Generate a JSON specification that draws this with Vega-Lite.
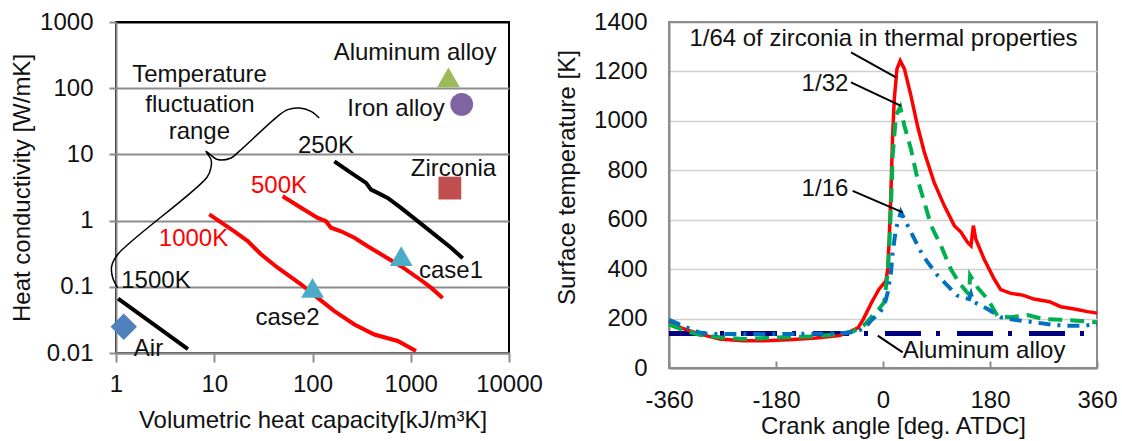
{
  "$schema": "https://vega.github.io/schema/vega-lite/v6.json",
  "padding": {"left": 9, "top": 9, "right": 2, "bottom": 2},
  "bounds": "flush",
  "spacing": 160,
  "config": {
    "font": "Liberation Sans",
    "axis": {"labelFont": "Liberation Sans", "titleFont": "Liberation Sans", "labelFontSize": 24, "titleFontSize": 24, "titleFontWeight": "normal", "labelColor": "#111111", "titleColor": "#111111"},
    "text": {"font": "Liberation Sans", "fontSize": 24}
  },
  "datasets": {
    "curves": [
      {"series": "250K", "ord": 1, "x": 167, "y": 7.87}, {"series": "250K", "ord": 2, "x": 247, "y": 5.25}, {"series": "250K", "ord": 3, "x": 351, "y": 3.71}, {"series": "250K", "ord": 4, "x": 394, "y": 2.94}, {"series": "250K", "ord": 5, "x": 461, "y": 2.62}, {"series": "250K", "ord": 6, "x": 582, "y": 2.2}, {"series": "250K", "ord": 7, "x": 796, "y": 1.56}, {"series": "250K", "ord": 8, "x": 1177, "y": 0.98}, {"series": "250K", "ord": 9, "x": 1738, "y": 0.62}, {"series": "250K", "ord": 10, "x": 2570, "y": 0.39}, {"series": "250K", "ord": 11, "x": 3380, "y": 0.27},
      {"series": "500K", "ord": 1, "x": 49.7, "y": 2.33}, {"series": "500K", "ord": 2, "x": 76.4, "y": 1.56}, {"series": "500K", "ord": 3, "x": 113, "y": 1.1}, {"series": "500K", "ord": 4, "x": 137, "y": 0.98}, {"series": "500K", "ord": 5, "x": 154, "y": 0.78}, {"series": "500K", "ord": 6, "x": 195, "y": 0.69}, {"series": "500K", "ord": 7, "x": 267, "y": 0.55}, {"series": "500K", "ord": 8, "x": 364, "y": 0.41}, {"series": "500K", "ord": 9, "x": 538, "y": 0.29}, {"series": "500K", "ord": 10, "x": 796, "y": 0.205}, {"series": "500K", "ord": 11, "x": 1177, "y": 0.137}, {"series": "500K", "ord": 12, "x": 1607, "y": 0.097}, {"series": "500K", "ord": 13, "x": 2113, "y": 0.068},
      {"series": "1000K", "ord": 1, "x": 8.9, "y": 1.24}, {"series": "1000K", "ord": 2, "x": 16, "y": 0.69}, {"series": "1000K", "ord": 3, "x": 21.9, "y": 0.49}, {"series": "1000K", "ord": 4, "x": 29.9, "y": 0.31}, {"series": "1000K", "ord": 5, "x": 44.2, "y": 0.194}, {"series": "1000K", "ord": 6, "x": 76.4, "y": 0.109}, {"series": "1000K", "ord": 7, "x": 113, "y": 0.068}, {"series": "1000K", "ord": 8, "x": 167, "y": 0.043}, {"series": "1000K", "ord": 9, "x": 267, "y": 0.027}, {"series": "1000K", "ord": 10, "x": 426, "y": 0.019}, {"series": "1000K", "ord": 11, "x": 736, "y": 0.0152}, {"series": "1000K", "ord": 12, "x": 1130, "y": 0.0107},
      {"series": "1500K", "ord": 1, "x": 1.05, "y": 0.066}, {"series": "1500K", "ord": 2, "x": 5.4, "y": 0.0114}
    ],
    "bracket": [
      {"ord": 1, "x": 117, "y": 35.4}, {"ord": 2, "x": 96.6, "y": 44.7}, {"ord": 3, "x": 73.4, "y": 50.1}, {"ord": 4, "x": 56, "y": 47.4}, {"ord": 5, "x": 44.2, "y": 37.6}, {"ord": 6, "x": 17.9, "y": 11.1}, {"ord": 7, "x": 14.8, "y": 8.83}, {"ord": 8, "x": 10.8, "y": 8.35}, {"ord": 9, "x": 8.24, "y": 11.1}, {"ord": 10, "x": 9.27, "y": 8.35}, {"ord": 11, "x": 9.27, "y": 6.38}, {"ord": 12, "x": 8.44, "y": 4.52}, {"ord": 13, "x": 1.04, "y": 0.308}, {"ord": 14, "x": 0.904, "y": 0.205}, {"ord": 15, "x": 0.926, "y": 0.137}, {"ord": 16, "x": 1.04, "y": 0.0966}
    ],
    "materials": [
      {"name": "Aluminum alloy", "x": 2420, "y": 146},
      {"name": "Iron alloy", "x": 3300, "y": 57},
      {"name": "Zirconia", "x": 2500, "y": 3.1},
      {"name": "case1", "x": 800, "y": 0.29},
      {"name": "case2", "x": 100, "y": 0.096},
      {"name": "Air", "x": 1.2, "y": 0.025}
    ],
    "leftLabels": [
      {"label": "Aluminum alloy", "x": 1105, "y": 335},
      {"label": "Temperature", "x": 7.08, "y": 161},
      {"label": "fluctuation", "x": 7.16, "y": 56.4},
      {"label": "range", "x": 7.05, "y": 22.1},
      {"label": "Iron alloy", "x": 708, "y": 47.9},
      {"label": "250K", "x": 137, "y": 13.2},
      {"label": "Zirconia", "x": 2723, "y": 5.96},
      {"label": "500K", "x": 45.6, "y": 3.3},
      {"label": "1000K", "x": 6.15, "y": 0.524},
      {"label": "case1", "x": 2570, "y": 0.173},
      {"label": "1500K", "x": 2.55, "y": 0.122},
      {"label": "case2", "x": 55.7, "y": 0.0337},
      {"label": "Air", "x": 2.14, "y": 0.0115}
    ],
    "temps": [
      {"series": "Aluminum alloy", "x": -360, "y": 140}, {"series": "Aluminum alloy", "x": 360, "y": 140},
      {"series": "1/64", "x": -360, "y": 188}, {"series": "1/64", "x": -337, "y": 160}, {"series": "1/64", "x": -309, "y": 138}, {"series": "1/64", "x": -275, "y": 117}, {"series": "1/64", "x": -236, "y": 110}, {"series": "1/64", "x": -197, "y": 110}, {"series": "1/64", "x": -152, "y": 115}, {"series": "1/64", "x": -113, "y": 121}, {"series": "1/64", "x": -73, "y": 131}, {"series": "1/64", "x": -53, "y": 150}, {"series": "1/64", "x": -42, "y": 162}, {"series": "1/64", "x": -33, "y": 198}, {"series": "1/64", "x": -19, "y": 266}, {"series": "1/64", "x": -7, "y": 318}, {"series": "1/64", "x": 5, "y": 353}, {"series": "1/64", "x": 8, "y": 401}, {"series": "1/64", "x": 10.5, "y": 522}, {"series": "1/64", "x": 13.5, "y": 724}, {"series": "1/64", "x": 16, "y": 927}, {"series": "1/64", "x": 19, "y": 1088}, {"series": "1/64", "x": 23.5, "y": 1210}, {"series": "1/64", "x": 29, "y": 1243}, {"series": "1/64", "x": 36, "y": 1210}, {"series": "1/64", "x": 47, "y": 1102}, {"series": "1/64", "x": 58, "y": 980}, {"series": "1/64", "x": 69.5, "y": 873}, {"series": "1/64", "x": 86, "y": 751}, {"series": "1/64", "x": 103, "y": 657}, {"series": "1/64", "x": 120, "y": 576}, {"series": "1/64", "x": 131, "y": 550}, {"series": "1/64", "x": 142, "y": 509}, {"series": "1/64", "x": 148, "y": 495}, {"series": "1/64", "x": 152, "y": 576}, {"series": "1/64", "x": 156, "y": 522}, {"series": "1/64", "x": 170, "y": 441}, {"series": "1/64", "x": 187, "y": 360}, {"series": "1/64", "x": 198, "y": 317}, {"series": "1/64", "x": 215, "y": 302}, {"series": "1/64", "x": 235, "y": 295}, {"series": "1/64", "x": 254, "y": 279}, {"series": "1/64", "x": 280, "y": 268}, {"series": "1/64", "x": 299, "y": 248}, {"series": "1/64", "x": 322, "y": 239}, {"series": "1/64", "x": 344, "y": 228}, {"series": "1/64", "x": 360, "y": 222},
      {"series": "1/32", "x": -360, "y": 176}, {"series": "1/32", "x": -337, "y": 154}, {"series": "1/32", "x": -309, "y": 134}, {"series": "1/32", "x": -275, "y": 124}, {"series": "1/32", "x": -236, "y": 117}, {"series": "1/32", "x": -197, "y": 121}, {"series": "1/32", "x": -152, "y": 126}, {"series": "1/32", "x": -113, "y": 128}, {"series": "1/32", "x": -73, "y": 138}, {"series": "1/32", "x": -50, "y": 148}, {"series": "1/32", "x": -31, "y": 175}, {"series": "1/32", "x": -20, "y": 205}, {"series": "1/32", "x": -8, "y": 235}, {"series": "1/32", "x": 2, "y": 266}, {"series": "1/32", "x": 8, "y": 388}, {"series": "1/32", "x": 10.6, "y": 496}, {"series": "1/32", "x": 13.5, "y": 658}, {"series": "1/32", "x": 16.3, "y": 860}, {"series": "1/32", "x": 21.8, "y": 1022}, {"series": "1/32", "x": 29, "y": 1056}, {"series": "1/32", "x": 36, "y": 980}, {"series": "1/32", "x": 47, "y": 886}, {"series": "1/32", "x": 58, "y": 765}, {"series": "1/32", "x": 69.5, "y": 671}, {"series": "1/32", "x": 81, "y": 576}, {"series": "1/32", "x": 97.5, "y": 495}, {"series": "1/32", "x": 114, "y": 400}, {"series": "1/32", "x": 128, "y": 345}, {"series": "1/32", "x": 140, "y": 310}, {"series": "1/32", "x": 145, "y": 298}, {"series": "1/32", "x": 146.5, "y": 375}, {"series": "1/32", "x": 160, "y": 322}, {"series": "1/32", "x": 176, "y": 279}, {"series": "1/32", "x": 193, "y": 209}, {"series": "1/32", "x": 215, "y": 205}, {"series": "1/32", "x": 243, "y": 214}, {"series": "1/32", "x": 271, "y": 198}, {"series": "1/32", "x": 299, "y": 195}, {"series": "1/32", "x": 327, "y": 191}, {"series": "1/32", "x": 360, "y": 185},
      {"series": "1/16", "x": -360, "y": 195}, {"series": "1/16", "x": -337, "y": 171}, {"series": "1/16", "x": -309, "y": 144}, {"series": "1/16", "x": -293, "y": 138}, {"series": "1/16", "x": -250, "y": 138}, {"series": "1/16", "x": -200, "y": 137}, {"series": "1/16", "x": -150, "y": 138}, {"series": "1/16", "x": -100, "y": 139}, {"series": "1/16", "x": -60, "y": 142}, {"series": "1/16", "x": -45, "y": 148}, {"series": "1/16", "x": -31, "y": 160}, {"series": "1/16", "x": -20, "y": 192}, {"series": "1/16", "x": -5, "y": 225}, {"series": "1/16", "x": 2, "y": 252}, {"series": "1/16", "x": 8, "y": 306}, {"series": "1/16", "x": 13.5, "y": 388}, {"series": "1/16", "x": 16.3, "y": 469}, {"series": "1/16", "x": 21.8, "y": 563}, {"series": "1/16", "x": 30, "y": 631}, {"series": "1/16", "x": 38.6, "y": 590}, {"series": "1/16", "x": 50, "y": 536}, {"series": "1/16", "x": 64, "y": 469}, {"series": "1/16", "x": 75, "y": 428}, {"series": "1/16", "x": 92, "y": 374}, {"series": "1/16", "x": 108.6, "y": 333}, {"series": "1/16", "x": 125, "y": 293}, {"series": "1/16", "x": 145, "y": 279}, {"series": "1/16", "x": 148, "y": 300}, {"series": "1/16", "x": 152, "y": 268}, {"series": "1/16", "x": 176, "y": 239}, {"series": "1/16", "x": 198.5, "y": 205}, {"series": "1/16", "x": 221, "y": 195}, {"series": "1/16", "x": 254.5, "y": 185}, {"series": "1/16", "x": 288, "y": 174}, {"series": "1/16", "x": 310, "y": 171}, {"series": "1/16", "x": 338, "y": 171}, {"series": "1/16", "x": 360, "y": 178}
    ],
    "leaders": [
      {"id": "a", "x": -53.8, "y": 1277}, {"id": "a", "x": 21.9, "y": 1176},
      {"id": "b", "x": -53.8, "y": 1156}, {"id": "b", "x": 30.3, "y": 1061},
      {"id": "c", "x": -51, "y": 717}, {"id": "c", "x": 33.1, "y": 630},
      {"id": "d", "x": -8.9, "y": 131}, {"id": "d", "x": 33.1, "y": 63.5}
    ],
    "rightLabels": [
      {"label": "1/64 of zirconia in thermal properties", "x": 0.8, "y": 1331},
      {"label": "1/32", "x": -97.6, "y": 1149},
      {"label": "1/16", "x": -97.6, "y": 724},
      {"label": "Aluminum alloy", "x": 170, "y": 69}
    ]
  },
  "hconcat": [
    {
      "width": 393,
      "height": 331,
      "view": {"stroke": "#000000", "strokeWidth": 2},
      "encoding": {
        "x": {"field": "x", "type": "quantitative", "scale": {"type": "log", "domain": [1, 10000]},
          "axis": {"title": "Volumetric heat capacity[kJ/m³K]", "values": [1, 10, 100, 1000, 10000], "labelExpr": "'' + datum.value", "grid": false, "tickSize": 9, "tickColor": "#8c8c8c", "tickWidth": 2, "domainColor": "#8c8c8c", "domainWidth": 2, "labelPadding": 10, "titlePadding": 12, "labelFlush": false}},
        "y": {"field": "y", "type": "quantitative", "scale": {"type": "log", "domain": [0.01, 1000]},
          "axis": {"title": "Heat conductivity  [W/mK]", "values": [0.01, 0.1, 1, 10, 100, 1000], "labelExpr": "'' + datum.value", "grid": true, "gridColor": {"condition": {"test": "datum.value >= 1000", "value": "#000000"}, "value": "#8c8c8c"}, "gridWidth": 2, "tickSize": 7, "tickColor": "#8c8c8c", "tickWidth": 2, "domainColor": "#8c8c8c", "domainWidth": 2, "labelPadding": 16, "titlePadding": 5, "labelFlush": false}}
      },
      "layer": [
        {
          "data": {"name": "bracket"},
          "mark": {"type": "line", "stroke": "#000000", "strokeWidth": 1.5, "interpolate": "catmull-rom"},
          "encoding": {"order": {"field": "ord", "type": "quantitative"}}
        },
        {
          "data": {"name": "curves"},
          "mark": {"type": "line", "strokeWidth": 4},
          "encoding": {
            "color": {"field": "series", "type": "nominal", "scale": {"domain": ["250K", "500K", "1000K", "1500K"], "range": ["#000000", "#ff0000", "#ff0000", "#000000"]}, "legend": null},
            "order": {"field": "ord", "type": "quantitative"}
          }
        },
        {
          "data": {"name": "materials"},
          "mark": {"type": "point", "filled": true, "opacity": 1, "strokeWidth": 0},
          "encoding": {
            "shape": {"field": "name", "type": "nominal", "scale": {"domain": ["Aluminum alloy", "Iron alloy", "Zirconia", "case1", "case2", "Air"], "range": ["triangle-up", "circle", "square", "triangle-up", "triangle-up", "diamond"]}, "legend": null},
            "fill": {"field": "name", "type": "nominal", "scale": {"domain": ["Aluminum alloy", "Iron alloy", "Zirconia", "case1", "case2", "Air"], "range": ["#9bbb59", "#8064a2", "#c0504d", "#4bacc6", "#4bacc6", "#4f81bd"]}, "legend": null},
            "size": {"condition": {"test": "datum.name === 'Air'", "value": 700}, "value": 520}
          }
        },
        {
          "data": {"name": "leftLabels"},
          "mark": {"type": "text", "align": "center", "baseline": "middle", "fontSize": 24},
          "encoding": {
            "text": {"field": "label", "type": "nominal"},
            "color": {"condition": {"test": "datum.label === '500K' || datum.label === '1000K'", "value": "#ff0000"}, "value": "#111111"}
          }
        }
      ]
    },
    {
      "width": 428,
      "height": 346,
      "view": {"stroke": "#8c8c8c", "strokeWidth": 2},
      "encoding": {
        "x": {"field": "x", "type": "quantitative", "scale": {"domain": [-360, 360], "nice": false, "zero": false},
          "axis": {"title": "Crank angle [deg. ATDC]", "values": [-360, -180, 0, 180, 360], "labelExpr": "'' + datum.value", "grid": false, "tickSize": -7, "tickColor": "#8c8c8c", "tickWidth": 2, "domainColor": "#8c8c8c", "domainWidth": 2, "labelPadding": 27, "titlePadding": 2, "titleX": 224, "labelFlush": false}},
        "y": {"field": "y", "type": "quantitative", "scale": {"domain": [0, 1400], "nice": false},
          "axis": {"title": "Surface temperature [K]", "values": [0, 200, 400, 600, 800, 1000, 1200, 1400], "labelExpr": "'' + datum.value", "grid": true, "gridColor": {"condition": {"test": "datum.value >= 1400 || datum.value <= 0", "value": "#8c8c8c"}, "value": "#d0d0d0"}, "gridWidth": 1.5, "ticks": false, "domainColor": "#8c8c8c", "domainWidth": 2, "labelPadding": 22, "titlePadding": 14, "titleY": 155, "labelFlush": false}}
      },
      "layer": [
        {
          "data": {"name": "temps"},
          "transform": [{"filter": "datum.series === 'Aluminum alloy'"}],
          "mark": {"type": "line", "stroke": "#000080", "strokeWidth": 5, "strokeDash": [36, 15, 4, 17]},
          "encoding": {}
        },
        {
          "data": {"name": "temps"},
          "transform": [{"filter": "datum.series === '1/64'"}],
          "mark": {"type": "line", "stroke": "#ff0000", "strokeWidth": 3.5},
          "encoding": {}
        },
        {
          "data": {"name": "temps"},
          "transform": [{"filter": "datum.series === '1/32'"}],
          "mark": {"type": "line", "stroke": "#00b050", "strokeWidth": 4, "strokeDash": [14, 8]},
          "encoding": {}
        },
        {
          "data": {"name": "temps"},
          "transform": [{"filter": "datum.series === '1/16'"}],
          "mark": {"type": "line", "stroke": "#0070c0", "strokeWidth": 4, "strokeDash": [12, 7, 3, 7]},
          "encoding": {}
        },
        {
          "data": {"name": "leaders"},
          "mark": {"type": "line", "stroke": "#000000", "strokeWidth": 2},
          "encoding": {"detail": {"field": "id", "type": "nominal"}}
        },
        {
          "data": {"name": "rightLabels"},
          "mark": {"type": "text", "align": "center", "baseline": "middle", "fontSize": 24, "color": "#111111"},
          "encoding": {"text": {"field": "label", "type": "nominal"}}
        }
      ]
    }
  ]
}
